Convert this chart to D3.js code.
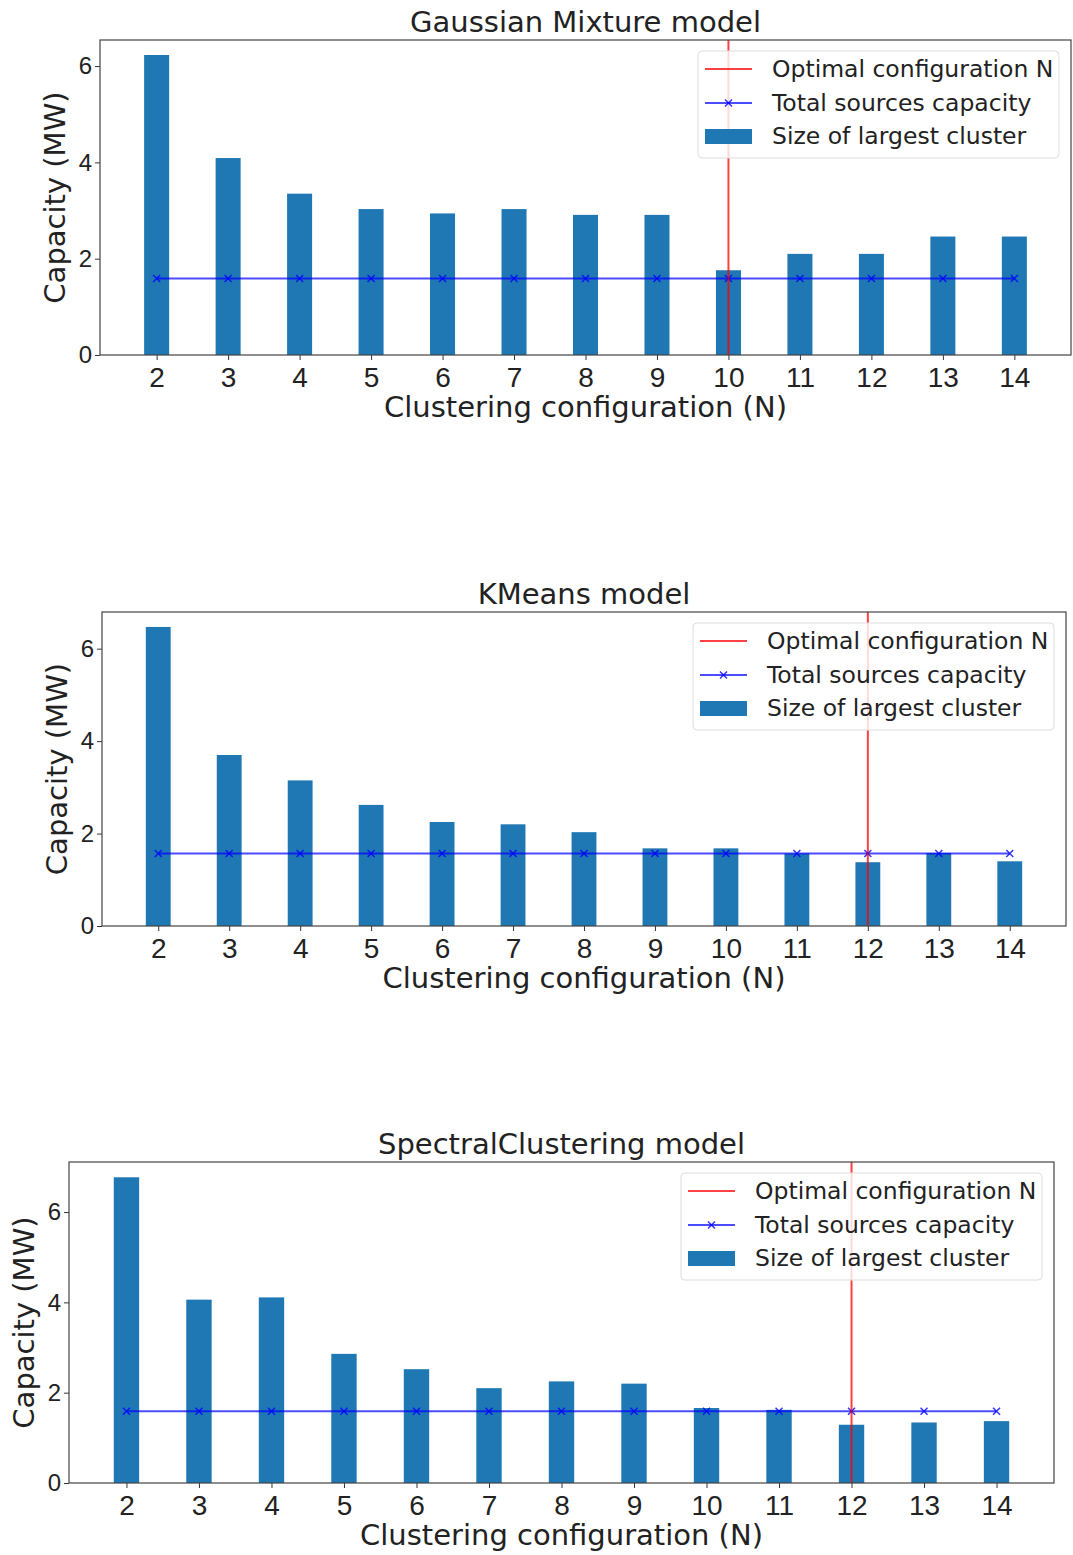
<!DOCTYPE html>
<html>
<head>
<meta charset="utf-8">
<script src="https://cdn.jsdelivr.net/npm/d3@7"></script>
<style>
  body { margin: 0; background: #fff; }
  svg { font-family: "DejaVu Sans", sans-serif; }
</style>
</head>
<body>
<div id="chart"></div>
<script>
// clustering configurations (N)
const nValues = [2, 3, 4, 5, 6, 7, 8, 9, 10, 11, 12, 13, 14];
const yTicks = [0, 2, 4, 6];

// size of largest cluster (MW)
const gmmLargest = [6.23, 4.09, 3.35, 3.03, 2.94, 3.03, 2.91, 2.91, 1.76, 2.10, 2.10, 2.46, 2.46];
const kmeansLargest = [6.47, 3.70, 3.15, 2.62, 2.25, 2.20, 2.03, 1.68, 1.68, 1.57, 1.38, 1.58, 1.40];
const spectralLargest = [6.77, 4.06, 4.11, 2.86, 2.52, 2.10, 2.25, 2.20, 1.66, 1.62, 1.29, 1.34, 1.37];

// total sources capacity (MW)
const gmmTotal = [1.59, 1.59, 1.59, 1.59, 1.59, 1.59, 1.59, 1.59, 1.59, 1.59, 1.59, 1.59, 1.59];
const kmeansTotal = [1.57, 1.57, 1.57, 1.57, 1.57, 1.57, 1.57, 1.57, 1.57, 1.57, 1.57, 1.57, 1.57];
const spectralTotal = [1.59, 1.59, 1.59, 1.59, 1.59, 1.59, 1.59, 1.59, 1.59, 1.59, 1.59, 1.59, 1.59];

// optimal N per model
const gmmOptimal = 10;
const kmeansOptimal = 12;
const spectralOptimal = 12;

const legendLabels = ["Optimal configuration N", "Total sources capacity", "Size of largest cluster"];

const panels = [
  { title: "Gaussian Mixture model", largest: gmmLargest, total: gmmTotal, optimal: gmmOptimal,
    left: 100, right: 1071, top: 40, bottom: 355 },
  { title: "KMeans model", largest: kmeansLargest, total: kmeansTotal, optimal: kmeansOptimal,
    left: 102, right: 1066, top: 612, bottom: 926 },
  { title: "SpectralClustering model", largest: spectralLargest, total: spectralTotal, optimal: spectralOptimal,
    left: 69, right: 1054, top: 1162, bottom: 1483 }
];

const W = 1073, H = 1555;
const barWidth = 0.35;
const barColor = "#1f77b4";
const textColor = "#222";

const svg = d3.select("#chart").append("svg")
  .attr("width", W)
  .attr("height", H);

panels.forEach(p => drawPanel(p));

function drawPanel(p) {
  // matplotlib style autoscale: 5% margins around the bars
  let lo = d3.min(nValues) - barWidth / 2, hi = d3.max(nValues) + barWidth / 2;
  let pad = (hi - lo) * 0.05;
  let x = d3.scaleLinear().domain([lo - pad, hi + pad]).range([p.left, p.right]);
  let y = d3.scaleLinear().domain([0, d3.max(p.largest) * 1.05]).range([p.bottom, p.top]);

  let g = svg.append("g");

  // bars
  g.selectAll("rect.bar").data(nValues).enter().append("rect")
    .attr("class", "bar")
    .attr("x", d => x(d - barWidth / 2))
    .attr("width", d => x(d + barWidth / 2) - x(d - barWidth / 2))
    .attr("y", (d, i) => y(p.largest[i]))
    .attr("height", (d, i) => y(0) - y(p.largest[i]))
    .attr("fill", barColor);

  // total sources capacity line with x markers
  let line = d3.line().x(d => x(d)).y((d, i) => y(p.total[i]));
  g.append("path").datum(nValues)
    .attr("d", line)
    .attr("fill", "none")
    .attr("stroke", "#0000ff")
    .attr("stroke-opacity", 0.7)
    .attr("stroke-width", 2);

  g.selectAll("path.mark").data(nValues).enter().append("path")
    .attr("class", "mark")
    .attr("d", (d, i) => {
      let cx = x(d), cy = y(p.total[i]), s = 3.5;
      return `M${cx - s},${cy - s}L${cx + s},${cy + s}M${cx - s},${cy + s}L${cx + s},${cy - s}`;
    })
    .attr("stroke", "#0000ff")
    .attr("stroke-opacity", 0.8)
    .attr("stroke-width", 1.5);

  // optimal configuration
  g.append("line")
    .attr("x1", x(p.optimal)).attr("x2", x(p.optimal))
    .attr("y1", p.top).attr("y2", p.bottom)
    .attr("stroke", "#ff0000")
    .attr("stroke-opacity", 0.75)
    .attr("stroke-width", 2);

  // axes
  let xAxis = g.append("g")
    .attr("transform", `translate(0,${p.bottom})`)
    .call(d3.axisBottom(x).tickValues(nValues).tickSize(5).tickPadding(7).tickFormat(d3.format("d")));
  xAxis.select(".domain").remove();
  xAxis.selectAll("text").attr("font-size", 28).attr("fill", textColor);
  xAxis.selectAll("line").attr("stroke", "#333");

  let yAxis = g.append("g")
    .attr("transform", `translate(${p.left},0)`)
    .call(d3.axisLeft(y).tickValues(yTicks).tickSize(5).tickPadding(3).tickFormat(d3.format("d")));
  yAxis.select(".domain").remove();
  yAxis.selectAll("text").attr("font-size", 24).attr("fill", textColor);
  yAxis.selectAll("line").attr("stroke", "#333");

  // frame
  g.append("rect")
    .attr("x", p.left).attr("y", p.top)
    .attr("width", p.right - p.left).attr("height", p.bottom - p.top)
    .attr("fill", "none").attr("stroke", "#444").attr("stroke-width", 1.2);

  // texts
  g.append("text")
    .attr("x", (p.left + p.right) / 2).attr("y", p.top - 8)
    .attr("text-anchor", "middle").attr("font-size", 29).attr("fill", textColor)
    .text(p.title);

  g.append("text")
    .attr("x", (p.left + p.right) / 2).attr("y", p.bottom + 62)
    .attr("text-anchor", "middle").attr("font-size", 29).attr("fill", textColor)
    .text("Clustering configuration (N)");

  g.append("text")
    .attr("transform", `translate(${p.left - 35},${(p.top + p.bottom) / 2}) rotate(-90)`)
    .attr("text-anchor", "middle").attr("font-size", 29).attr("fill", textColor)
    .text("Capacity (MW)");

  // legend
  let lw = 361, lh = 107;
  let lx = p.right - 12 - lw, ly = p.top + 11;
  let lg = g.append("g").attr("transform", `translate(${lx},${ly})`);
  lg.append("rect")
    .attr("width", lw).attr("height", lh).attr("rx", 4)
    .attr("fill", "#fff").attr("fill-opacity", 0.8)
    .attr("stroke", "#ddd").attr("stroke-width", 1);

  lg.append("line").attr("x1", 7).attr("x2", 54).attr("y1", 18).attr("y2", 18)
    .attr("stroke", "#ff0000").attr("stroke-opacity", 0.75).attr("stroke-width", 2);
  lg.append("line").attr("x1", 7).attr("x2", 54).attr("y1", 52).attr("y2", 52)
    .attr("stroke", "#0000ff").attr("stroke-opacity", 0.7).attr("stroke-width", 2);
  lg.append("path").attr("d", "M27,48.5L34,55.5M27,55.5L34,48.5")
    .attr("stroke", "#0000ff").attr("stroke-opacity", 0.8).attr("stroke-width", 1.5);
  lg.append("rect").attr("x", 7).attr("y", 78).attr("width", 47).attr("height", 15)
    .attr("fill", barColor);

  lg.selectAll("text").data(legendLabels).enter().append("text")
    .attr("x", 74).attr("y", (d, i) => 26 + i * 33.5)
    .attr("font-size", 23.5).attr("fill", textColor)
    .text(d => d);
}
</script>
</body>
</html>
